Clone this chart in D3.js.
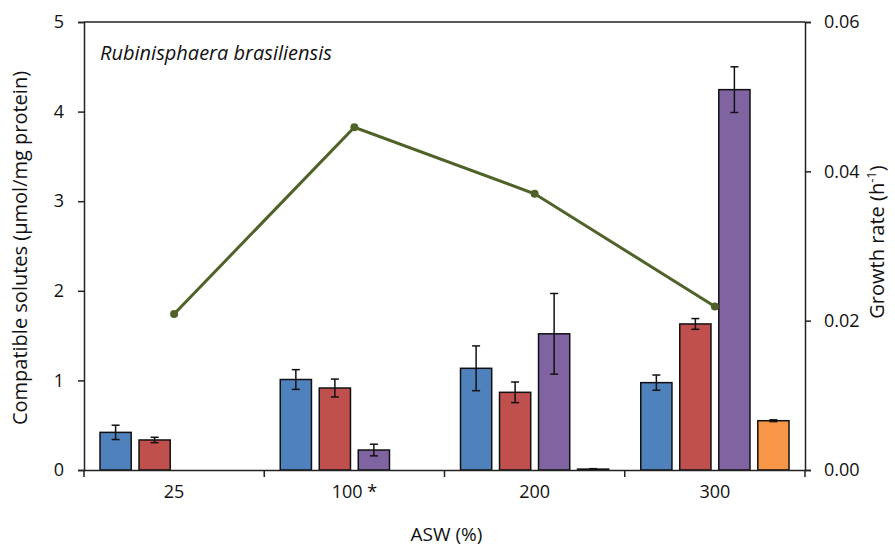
<!DOCTYPE html>
<html>
<head>
<meta charset="utf-8">
<script src="https://cdn.jsdelivr.net/npm/d3@7"></script>
<style>
  body { margin: 0; background: #fff; }
  svg { font-family: "Open Sans", sans-serif; }
</style>
</head>
<body>
<svg id="chart"></svg>
<script>
// Data
const categories = ["25", "100 *", "200", "300"];
const seriesNames = ["s1", "s2", "s3", "s4"];
const seriesColors = ["#4F81BD", "#C0504D", "#8064A2", "#F79646"];
// values per series, one per category (null = not present)
const s1Values = [0.42, 1.01, 1.135, 0.975];
const s1Errors = [0.08, 0.11, 0.25, 0.085];
const s2Values = [0.335, 0.915, 0.867, 1.63];
const s2Errors = [0.03, 0.10, 0.115, 0.06];
const s3Values = [null, 0.223, 1.52, 4.245];
const s3Errors = [null, 0.065, 0.45, 0.255];
const s4Values = [null, null, 0.01, 0.55];
const s4Errors = [null, null, 0.005, 0.01];
const growthRate = [0.0209, 0.0459, 0.037, 0.0219];
const leftTicks = [0, 1, 2, 3, 4, 5];
const rightTicks = [0, 0.02, 0.04, 0.06];

const width = 895, height = 546;
const margin = {top: 22, right: 90, bottom: 76, left: 84};

const svg = d3.select("#chart").attr("width", width).attr("height", height);

const x0 = d3.scaleBand().domain(categories)
    .range([margin.left, width - margin.right]).paddingInner(0).paddingOuter(0);
const x1 = d3.scaleBand().domain(seriesNames)
    .range([16, x0.bandwidth() - 16]).paddingInner(0.2);
const y = d3.scaleLinear().domain([0, 5]).range([height - margin.bottom, margin.top]);
const y2 = d3.scaleLinear().domain([0, 0.06]).range([height - margin.bottom, margin.top]);

const allValues = [s1Values, s2Values, s3Values, s4Values];
const allErrors = [s1Errors, s2Errors, s3Errors, s4Errors];
const bars = [];
seriesNames.forEach((s, i) => {
    categories.forEach((c, j) => {
        if (allValues[i][j] != null) bars.push({series: s, cat: c, value: allValues[i][j], err: allErrors[i][j], color: seriesColors[i]});
    });
});

// Top border of plot area
svg.append("line")
    .attr("x1", margin.left).attr("x2", width - margin.right)
    .attr("y1", margin.top).attr("y2", margin.top)
    .attr("stroke", "#222").attr("stroke-width", 1.5);

// Bars
svg.append("g").selectAll("rect")
    .data(bars)
    .join("rect")
    .attr("x", d => x0(d.cat) + x1(d.series))
    .attr("y", d => y(d.value))
    .attr("width", x1.bandwidth())
    .attr("height", d => y(0) - y(d.value))
    .attr("fill", d => d.color)
    .attr("stroke", "#111")
    .attr("stroke-width", 1.5);

// Error bars
const eb = svg.append("g").attr("stroke", "#111").attr("stroke-width", 1.5);
bars.forEach(d => {
    const cx = x0(d.cat) + x1(d.series) + x1.bandwidth() / 2;
    const hi = y(d.value + d.err), lo = y(d.value - d.err);
    eb.append("line").attr("x1", cx).attr("x2", cx).attr("y1", hi).attr("y2", lo);
    eb.append("line").attr("x1", cx - 4).attr("x2", cx + 4).attr("y1", hi).attr("y2", hi);
    eb.append("line").attr("x1", cx - 4).attr("x2", cx + 4).attr("y1", lo).attr("y2", lo);
});

// Growth rate line
const line = d3.line()
    .x((d, i) => x0(categories[i]) + x0.bandwidth() / 2)
    .y(d => y2(d));
svg.append("path")
    .datum(growthRate)
    .attr("d", line)
    .attr("fill", "none")
    .attr("stroke", "#4F6228")
    .attr("stroke-width", 3);
svg.append("g").selectAll("circle")
    .data(growthRate)
    .join("circle")
    .attr("cx", (d, i) => x0(categories[i]) + x0.bandwidth() / 2)
    .attr("cy", d => y2(d))
    .attr("r", 4)
    .attr("fill", "#4F6228");

// Left axis
const leftAxis = svg.append("g")
    .attr("transform", `translate(${margin.left},0)`)
    .call(d3.axisLeft(y).tickValues(leftTicks).tickFormat(d3.format("d")).tickSizeOuter(0).tickSize(6).tickPadding(14));

// Right axis
const rightAxis = svg.append("g")
    .attr("transform", `translate(${width - margin.right},0)`)
    .call(d3.axisRight(y2).tickValues(rightTicks).tickFormat(d3.format(".2f")).tickSizeOuter(0).tickSize(6).tickPadding(13));

// Bottom axis
const bottomAxis = svg.append("g")
    .attr("transform", `translate(0,${height - margin.bottom})`)
    .call(d3.axisBottom(x0).tickSize(0).tickPadding(15));
bottomAxis.selectAll(".tick line").remove();
// category separator ticks
bottomAxis.selectAll("line.sep")
    .data(d3.range(categories.length + 1))
    .join("line")
    .attr("class", "sep")
    .attr("x1", i => margin.left + i * x0.bandwidth())
    .attr("x2", i => margin.left + i * x0.bandwidth())
    .attr("y1", 0).attr("y2", 7)
    .attr("stroke", "#222").attr("stroke-width", 1.5);

[leftAxis, rightAxis, bottomAxis].forEach(g => {
    g.selectAll("path.domain").attr("stroke", "#222").attr("stroke-width", 1.5);
    g.selectAll(".tick line").attr("stroke", "#222").attr("stroke-width", 1.5);
    g.selectAll("text").attr("font-size", 18).attr("fill", "#111").attr("font-family", "Open Sans, sans-serif");
});

// Title
svg.append("text")
    .attr("x", 100).attr("y", 60)
    .attr("font-size", 20)
    .attr("font-style", "italic")
    .attr("fill", "#111")
    .text("Rubinisphaera brasiliensis");

// Axis titles
svg.append("text")
    .attr("transform", `translate(27,${(margin.top + height - margin.bottom) / 2 + 2}) rotate(-90)`)
    .attr("text-anchor", "middle")
    .attr("font-size", 20).attr("fill", "#111")
    .text("Compatible solutes (µmol/mg protein)");

const rt = svg.append("text")
    .attr("transform", `translate(884,${(margin.top + height - margin.bottom) / 2 - 4}) rotate(-90)`)
    .attr("text-anchor", "middle")
    .attr("font-size", 20).attr("fill", "#111");
rt.append("tspan").text("Growth rate (h");
rt.append("tspan").attr("font-size", 13).attr("dy", -8).text("-1");
rt.append("tspan").attr("dy", 8).text(")");

svg.append("text")
    .attr("x", (margin.left + width - margin.right) / 2 + 2).attr("y", 541)
    .attr("text-anchor", "middle")
    .attr("font-size", 19).attr("fill", "#111")
    .text("ASW (%)");
</script>
</body>
</html>
